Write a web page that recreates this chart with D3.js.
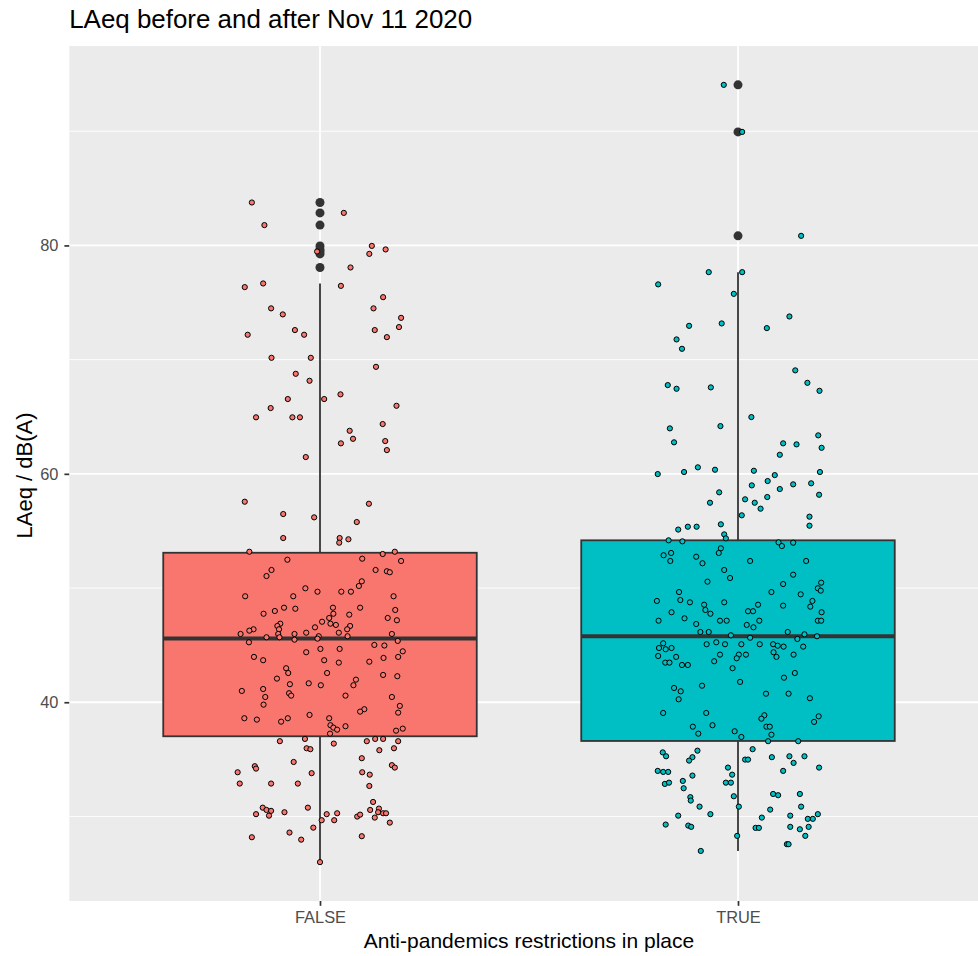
<!DOCTYPE html>
<html><head><meta charset="utf-8">
<script src="https://cdn.jsdelivr.net/npm/d3@7"></script>
<style>html,body{margin:0;padding:0;background:#fff;} svg{display:block;}</style>
</head><body>
<svg id="chart" width="978" height="956"></svg>
<script>
// ---------------- data ----------------
const categories = ["FALSE", "TRUE"];

// LAeq values, group FALSE (read from the jittered points)
const falseValues = [
83.76,82.85,81.78,79.96,79.65,79.47,79.26,78.07,76.35,76.67,
76.46,75.47,74.49,73.96,74.49,73.66,72.85,72.18,72.59,72.18,
72.59,71.97,70.16,70.16,69.37,68.76,68.15,66.55,66.55,66.96,
65.76,65.96,64.95,64.95,64.95,64.36,63.77,63.07,62.87,62.67,
62.08,61.47,57.56,57.38,56.48,56.19,55.78,54.38,54.27,53.97,
54.38,53.18,52.98,53.18,52.48,52.57,52.37,51.58,51.05,51.58,
51.47,51.38,50.59,50.18,49.98,49.68,49.68,49.68,49.28,49.28,
49.28,48.28,48.19,47.99,47.75,48.28,47.75,48.28,48.08,47.67,
47.38,47.05,47.38,47.18,46.88,46.68,46.88,46.77,46.68,46.56,
46.39,46.39,46.27,46.39,45.98,45.98,45.98,46.09,46.09,45.98,
45.69,45.69,45.78,45.78,45.48,45.57,45.25,45.02,44.97,45.37,
44.38,44.67,44.67,44.46,43.97,43.88,43.97,43.68,43.68,43.47,
43.55,42.98,42.56,42.56,42.39,42.28,42.07,41.98,41.49,41.58,
41.66,41.49,40.99,41.16,40.79,40.58,40.46,40.58,40.46,39.79,
39.68,39.39,39.18,39.09,38.89,38.60,38.48,38.30,38.60,38.60,
37.99,37.78,37.60,37.90,37.25,37.51,37.69,36.59,36.79,35.97,
35.89,36.38,36.59,36.79,36.79,36.59,35.97,35.80,35.10,34.77,
34.40,34.19,33.87,33.79,34.49,34.28,33.87,33.66,32.88,32.88,
32.88,32.67,31.27,30.77,30.57,30.49,30.07,30.20,30.37,30.77,
30.20,30.28,29.67,29.67,29.99,30.16,30.57,30.69,30.37,30.28,
30.28,29.90,29.46,29.02,28.59,27.97,28.18,28.27,26.00
];
// horizontal jitter of each FALSE point, in category units
const falseJitter = [
-0.163,0.057,-0.133,0.124,0.157,-0.007,0.118,0.073,-0.180,-0.136,
0.050,0.151,-0.117,-0.089,0.128,0.194,0.189,-0.173,-0.060,-0.038,
0.131,0.160,-0.116,-0.022,0.134,-0.058,-0.025,-0.077,0.010,0.049,
-0.118,0.183,-0.153,-0.066,-0.048,0.150,0.071,0.079,0.156,0.050,
0.160,-0.034,-0.180,0.117,-0.088,-0.014,0.088,0.047,0.068,0.046,
-0.088,-0.169,0.150,0.179,-0.078,0.101,0.194,-0.116,-0.128,0.133,
0.160,0.167,0.100,0.093,-0.035,-0.006,0.051,0.074,-0.179,-0.064,
0.176,-0.086,-0.059,-0.108,-0.135,0.031,0.032,0.096,0.180,0.070,
0.022,0.005,0.162,0.184,-0.095,-0.102,0.025,0.038,0.072,-0.012,
-0.098,-0.159,-0.169,0.065,-0.190,-0.100,-0.061,-0.033,0.045,0.172,
-0.128,-0.097,-0.003,0.066,-0.061,-0.006,-0.170,0.130,0.154,0.186,
-0.033,0.001,0.047,0.198,0.187,0.152,-0.158,-0.136,0.010,0.045,
0.118,-0.081,-0.076,0.017,0.151,0.185,-0.103,0.086,0.080,-0.072,
-0.027,0.002,-0.187,-0.136,-0.074,-0.069,-0.131,0.061,0.172,-0.135,
0.191,0.106,0.096,0.187,-0.025,-0.181,-0.151,-0.093,-0.077,0.022,
0.025,0.032,0.041,0.061,0.024,0.182,0.198,-0.096,-0.036,-0.032,
-0.023,0.033,0.112,0.132,0.151,0.187,0.177,0.142,0.100,-0.063,
-0.156,-0.153,-0.197,-0.020,0.172,0.179,0.101,0.119,-0.192,-0.117,
-0.053,0.118,0.127,-0.137,-0.128,-0.117,-0.122,-0.153,-0.085,-0.029,
0.016,0.041,0.004,0.034,0.089,0.096,0.120,0.141,0.139,0.151,
0.158,0.131,0.167,-0.016,-0.073,-0.045,-0.163,0.100,0.000
];

// LAeq values, group TRUE
const trueValues = [
94.06,89.94,80.84,77.66,77.66,76.59,75.76,72.96,73.17,72.76,
73.78,71.77,70.95,69.06,67.97,67.27,67.77,67.45,67.57,64.97,
63.98,64.18,62.76,63.37,62.67,62.58,62.28,61.67,59.98,60.16,
60.57,60.36,60.27,59.89,60.16,58.99,59.37,59.08,59.17,58.67,
58.38,58.17,57.47,57.77,57.47,57.97,56.95,56.37,56.25,55.46,
55.12,55.37,55.37,55.58,54.70,54.35,54.18,54.09,54.00,53.68,
53.97,52.87,53.07,52.37,52.74,52.17,53.48,53.07,52.37,52.37,
51.58,50.88,50.56,51.17,50.35,50.47,49.98,49.77,49.65,49.45,
49.65,48.87,48.95,48.75,48.54,48.08,47.75,48.75,48.54,48.46,
48.87,48.37,47.88,47.35,47.14,46.85,47.14,47.14,47.97,47.97,
47.14,46.77,46.56,47.88,47.14,47.14,46.15,46.15,45.86,45.65,
46.15,45.95,45.54,45.78,45.16,44.75,44.64,44.75,44.05,43.47,
43.47,43.97,43.26,43.26,45.08,45.25,45.08,44.17,43.59,45.08,
44.17,43.85,44.17,45.08,45.08,44.95,44.87,44.38,43.97,44.17,
44.87,42.98,42.56,42.15,41.78,41.45,41.25,40.96,40.26,40.75,
40.75,40.35,39.06,39.06,38.86,38.56,38.77,38.28,37.86,37.99,
37.25,37.86,37.86,37.46,36.96,37.16,36.59,36.59,35.61,35.27,
35.76,35.19,34.89,35.89,34.98,34.98,35.19,35.27,35.27,34.69,
34.28,34.28,33.99,33.90,33.90,33.66,33.99,33.58,32.85,32.96,
33.11,32.47,32.96,32.96,31.69,31.39,31.77,31.97,31.86,31.97,
30.86,30.86,30.86,30.60,30.07,30.20,29.90,30.07,29.79,29.79,
30.20,29.29,29.20,29.09,29.00,29.00,29.09,28.88,29.09,28.30,
28.30,27.57,27.57,26.98
];
// horizontal jitter of each TRUE point, in category units
const trueJitter = [
-0.034,0.010,0.151,-0.070,0.010,-0.191,-0.010,-0.117,-0.039,0.069,
0.123,-0.147,-0.134,0.137,0.166,0.195,-0.168,-0.147,-0.065,0.032,
-0.163,-0.042,-0.153,0.192,0.108,0.140,0.200,0.100,-0.192,-0.129,
-0.096,-0.055,0.038,0.088,0.196,0.033,0.071,0.132,0.175,0.100,
-0.045,0.194,-0.067,0.017,0.040,0.070,0.054,0.009,0.171,0.171,
-0.143,-0.120,-0.099,-0.041,-0.033,-0.029,-0.166,-0.133,0.097,0.105,
0.132,-0.178,-0.160,-0.162,-0.100,-0.085,-0.041,-0.046,0.029,0.163,
-0.033,-0.019,-0.073,0.132,0.108,0.199,0.191,0.198,0.080,0.150,
-0.141,-0.194,-0.138,-0.115,-0.081,-0.078,-0.066,-0.033,0.048,0.108,
0.178,0.173,-0.159,-0.128,-0.190,-0.100,-0.043,-0.027,0.024,0.036,
0.051,0.021,0.037,0.200,0.191,0.199,-0.090,-0.070,-0.017,0.029,
0.119,0.159,0.142,0.189,-0.179,-0.189,-0.173,-0.159,-0.191,-0.174,
-0.164,-0.148,-0.134,-0.120,-0.075,-0.052,-0.031,-0.043,-0.057,0.008,
0.002,-0.003,0.019,0.052,0.084,0.095,0.109,0.085,0.092,0.133,
0.156,-0.013,0.136,0.110,0.005,-0.086,-0.153,-0.137,-0.142,0.067,
0.121,0.172,-0.179,-0.076,0.063,0.056,0.193,0.182,-0.108,-0.061,
-0.095,0.068,0.076,-0.008,0.008,0.080,0.072,0.144,-0.180,-0.172,
-0.097,-0.109,-0.117,0.035,0.017,0.024,0.081,0.123,0.159,0.133,
0.194,-0.024,-0.192,-0.179,-0.167,-0.014,0.108,-0.109,-0.175,-0.165,
-0.132,-0.130,-0.029,-0.017,-0.114,-0.113,-0.010,0.084,0.096,0.148,
-0.092,0.002,0.151,0.077,-0.143,-0.066,0.057,0.125,0.167,0.179,
0.191,-0.173,-0.119,-0.112,0.042,0.050,0.125,0.148,0.169,0.161,
-0.002,0.117,0.121,-0.089
];

// box statistics
const boxQ1 = [37.02, 36.61];
const boxMedian = [45.58, 45.78];
const boxQ3 = [53.09, 54.18];

const yMajorTicks = [40, 60, 80];
const yMinorTicks = [30, 50, 70, 90];
const fillColors = ["#F8766D", "#00BFC4"];

const titleText = "LAeq before and after Nov 11 2020";
const xTitleText = "Anti-pandemics restrictions in place";
const yTitleText = "LAeq / dB(A)";

// ---------------- layout ----------------
const W = 978, H = 956;
const panel = { left: 69.2, right: 988.8, top: 46, bottom: 901 };
const FONT = "'Liberation Sans', Arial, Helvetica, sans-serif";

const svg = d3.select("#chart");
svg.append("rect").attr("width", W).attr("height", H).attr("fill", "#ffffff");

const groups = categories.map((c, i) => {
  const values = i === 0 ? falseValues : trueValues;
  const jitter = i === 0 ? falseJitter : trueJitter;
  const q1 = boxQ1[i], q3 = boxQ3[i], iqr = q3 - q1;
  const lo = q1 - 1.5 * iqr, hi = q3 + 1.5 * iqr;
  const inside = values.filter(v => v >= lo && v <= hi);
  return {
    cat: c, fill: fillColors[i], q1, q3, median: boxMedian[i],
    whiskerLo: d3.min(inside), whiskerHi: d3.max(inside),
    outliers: values.filter(v => v < lo || v > hi),
    points: values.map((v, k) => ({ v, j: jitter[k] }))
  };
});

const allValues = falseValues.concat(trueValues);
const [vmin, vmax] = d3.extent(allValues);
const span = vmax - vmin;

const x = d3.scalePoint().domain(categories).range([panel.left, panel.right]).padding(0.6);
const y = d3.scaleLinear().domain([vmin - 0.05 * span, vmax + 0.05 * span]).range([panel.bottom, panel.top]);
const step = x.step();

// clip
svg.append("defs").append("clipPath").attr("id", "pclip")
  .append("rect").attr("x", panel.left).attr("y", panel.top)
  .attr("width", panel.right - panel.left).attr("height", panel.bottom - panel.top);

const gp = svg.append("g").attr("clip-path", "url(#pclip)");
gp.append("rect").attr("x", panel.left).attr("y", panel.top)
  .attr("width", panel.right - panel.left).attr("height", panel.bottom - panel.top)
  .attr("fill", "#EBEBEB");

// minor grid
gp.selectAll("line.ymin").data(yMinorTicks).join("line")
  .attr("x1", panel.left).attr("x2", panel.right)
  .attr("y1", d => y(d)).attr("y2", d => y(d))
  .attr("stroke", "#ffffff").attr("stroke-width", 0.9);
// major grid
gp.selectAll("line.ymaj").data(yMajorTicks).join("line")
  .attr("x1", panel.left).attr("x2", panel.right)
  .attr("y1", d => y(d)).attr("y2", d => y(d))
  .attr("stroke", "#ffffff").attr("stroke-width", 1.8);
gp.selectAll("line.xmaj").data(categories).join("line")
  .attr("x1", d => x(d)).attr("x2", d => x(d))
  .attr("y1", panel.top).attr("y2", panel.bottom)
  .attr("stroke", "#ffffff").attr("stroke-width", 1.8);

// boxplots
const boxHalf = 0.375 * step;
groups.forEach(g => {
  const cx = x(g.cat);
  const gb = gp.append("g");
  gb.selectAll("circle").data(g.outliers).join("circle")
    .attr("cx", cx).attr("cy", d => y(d)).attr("r", 4.5)
    .attr("fill", "#333333");
  gb.append("line").attr("x1", cx).attr("x2", cx)
    .attr("y1", y(g.q3)).attr("y2", y(g.whiskerHi))
    .attr("stroke", "#333333").attr("stroke-width", 1.8);
  gb.append("line").attr("x1", cx).attr("x2", cx)
    .attr("y1", y(g.q1)).attr("y2", y(g.whiskerLo))
    .attr("stroke", "#333333").attr("stroke-width", 1.8);
  gb.append("rect").attr("x", cx - boxHalf).attr("width", 2 * boxHalf)
    .attr("y", y(g.q3)).attr("height", y(g.q1) - y(g.q3))
    .attr("fill", g.fill).attr("stroke", "#333333").attr("stroke-width", 1.8);
  gb.append("line").attr("x1", cx - boxHalf).attr("x2", cx + boxHalf)
    .attr("y1", y(g.median)).attr("y2", y(g.median))
    .attr("stroke", "#333333").attr("stroke-width", 3.8);
});

// jittered points
groups.forEach(g => {
  const cx = x(g.cat);
  gp.append("g").selectAll("circle").data(g.points).join("circle")
    .attr("cx", d => cx + d.j * step).attr("cy", d => y(d.v)).attr("r", 2.6)
    .attr("fill", g.fill).attr("stroke", "#000000").attr("stroke-width", 1.0);
});

// axes
const yAxis = svg.append("g").attr("transform", `translate(${panel.left},0)`)
  .call(d3.axisLeft(y).tickValues(yMajorTicks).tickSize(4.8).tickPadding(6).tickFormat(d3.format("d")));
const xAxis = svg.append("g").attr("transform", `translate(0,${panel.bottom})`)
  .call(d3.axisBottom(x).tickSize(4.8).tickPadding(5.9));
[yAxis, xAxis].forEach(a => {
  a.select(".domain").remove();
  a.selectAll(".tick line").attr("stroke", "#333333").attr("stroke-width", 1.7);
  a.selectAll(".tick text").attr("fill", "#4D4D4D").style("font-family", FONT).style("font-size", "16.4px");
});

// titles
svg.append("text").attr("x", panel.left).attr("y", 28.3)
  .style("font-family", FONT).style("font-size", "25px").attr("fill", "#000000")
  .attr("textLength", 403).attr("lengthAdjust", "spacingAndGlyphs")
  .text(titleText);
svg.append("text").attr("x", (panel.left + panel.right) / 2).attr("y", 948.3)
  .attr("text-anchor", "middle")
  .style("font-family", FONT).style("font-size", "21px").attr("fill", "#000000")
  .text(xTitleText);
svg.append("text")
  .attr("transform", `translate(31.5,${(panel.top + panel.bottom) / 2 + 2}) rotate(-90)`)
  .attr("text-anchor", "middle")
  .style("font-family", FONT).style("font-size", "22px").attr("fill", "#000000")
  .text(yTitleText);
</script>
</body></html>
